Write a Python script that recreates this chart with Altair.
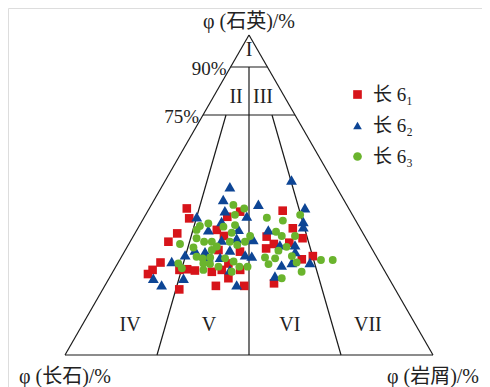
import altair as alt
import pandas as pd

# ---------------- data: (quartz Q, feldspar F, rock fragment R) in % ----------------
series_names = ["长 6₁", "长 6₂", "长 6₃"]
series_colors = ["#d7141a", "#0d4595", "#6ab42d"]
series_shapes = ["square", "triangle-up", "circle"]
series_sizes = [74, 118, 62]

q_red = [45.8, 45.1, 44.8, 42.7, 43.2, 39.6, 39.1, 38.0, 37.2, 37.0, 36.5, 35.4, 34.7, 35.1, 33.3, 32.8, 32.3,
         29.9, 30.9, 28.9, 28.6, 26.6, 26.6, 26.8, 26.4, 26.0, 26.6, 26.6, 24.0, 22.4, 20.5, 21.6, 21.6, 25.3]
f_red = [44.0, 18.3, 30.0, 44.9, 34.3, 18.3, 39.2, 50.5, 38.2, 26.7, 17.2, 54.2, 25.9, 21.5, 28.7, 41.9, 36.3,
         20.7, 17.2, 59.6, 41.3, 62.9, 55.6, 53.4, 51.5, 47.1, 44.1, 39.1, 43.6, 32.0, 58.7, 48.2, 40.5, 64.8]
r_red = [10.2, 36.6, 25.2, 12.4, 22.5, 42.1, 21.7, 11.5, 24.6, 36.3, 46.3, 10.4, 39.4, 43.4, 38.0, 25.3, 31.4,
         49.4, 51.9, 11.5, 30.1, 10.5, 17.8, 19.8, 22.1, 26.9, 29.3, 34.3, 32.4, 45.6, 20.8, 30.2, 37.9, 9.9]

q_blue = [54.7, 52.6, 48.6, 47.1, 46.0, 45.1, 43.2, 43.4, 41.7, 41.7, 40.1, 39.1, 39.3, 39.1, 35.9, 36.5, 36.1,
          34.4, 34.4, 32.8, 32.8, 32.3, 31.3, 32.3, 30.7, 30.5, 31.3, 30.9, 29.2, 28.1, 28.9, 28.9, 26.6, 24.0,
          24.0, 24.7, 21.9, 21.9]
f_blue = [11.1, 28.9, 32.7, 23.9, 11.8, 34.0, 42.6, 28.9, 36.6, 14.4, 15.2, 41.5, 33.2, 25.2, 39.5, 35.1, 30.8,
          24.4, 20.3, 48.3, 38.8, 21.3, 51.7, 45.8, 45.7, 42.6, 35.4, 33.8, 56.4, 27.1, 23.9, 19.0, 41.9, 64.0,
          55.8, 30.6, 62.8, 42.4]
r_blue = [34.2, 18.5, 18.7, 29.0, 42.2, 20.9, 14.2, 27.7, 21.7, 43.9, 44.7, 19.4, 27.5, 35.7, 24.6, 28.4, 33.1,
          41.2, 45.3, 18.9, 28.4, 46.4, 17.0, 21.9, 23.6, 26.9, 33.3, 35.3, 14.4, 44.8, 47.2, 52.1, 31.5, 12.0,
          20.2, 44.7, 15.3, 35.7]

q_green = [46.9, 45.8, 43.8, 42.9, 43.8, 41.1, 40.3, 39.1, 40.6, 40.1, 42.0, 38.2, 38.5, 37.2, 36.5, 37.2, 37.2,
           34.7, 35.4, 35.4, 35.4, 35.4, 33.6, 32.8, 32.6, 30.7, 30.2, 30.5, 30.2, 30.5, 30.2, 29.7, 29.7, 30.9,
           28.6, 27.1, 27.6, 29.2, 27.6, 28.4, 28.9, 27.6, 28.4, 26.6, 26.0, 24.0, 26.0, 33.9, 34.4, 28.6, 33.8]
f_green = [30.8, 28.4, 31.9, 23.7, 14.2, 40.5, 43.2, 44.7, 33.5, 36.9, 19.8, 35.6, 23.4, 22.5, 46.0, 31.1, 18.9,
           51.4, 44.5, 42.4, 37.5, 33.4, 48.3, 43.7, 25.7, 48.9, 47.5, 45.3, 41.4, 30.4, 27.8, 15.6, 12.4, 22.9,
           54.9, 54.7, 44.5, 39.6, 38.8, 30.5, 22.6, 36.6, 46.4, 49.1, 41.7, 29.1, 22.7, 41.8, 36.0, 48.1, 22.9]
r_green = [22.3, 25.8, 24.3, 33.4, 42.0, 18.4, 16.5, 16.2, 25.9, 23.0, 38.2, 26.2, 38.1, 40.3, 17.5, 31.7, 43.9,
           13.9, 20.1, 22.2, 27.1, 31.2, 18.1, 23.5, 41.7, 20.4, 22.3, 24.2, 28.4, 39.1, 42.0, 54.7, 57.9, 46.2,
           16.5, 18.2, 27.9, 31.2, 33.6, 41.1, 48.5, 35.8, 25.2, 24.3, 32.3, 46.9, 51.3, 24.3, 29.6, 23.3, 43.3]

# classification boundaries (start / end in Q, F, R %)
seg_q1 = [0, 0, 100, 90, 75, 90, 75, 75]
seg_f1 = [100, 0, 0, 10, 25, 5, 18.75, 6.25]
seg_r1 = [0, 100, 0, 0, 0, 5, 6.25, 18.75]
seg_q2 = [0, 100, 0, 90, 75, 0, 0, 0]
seg_f2 = [0, 0, 100, 0, 0, 50, 75, 25]
seg_r2 = [100, 0, 0, 10, 25, 50, 25, 75]

# field labels (Roman numerals) at ternary positions
zone_text = ["I", "II", "III", "IV", "V", "VI", "VII"]
zone_q = [95.3, 80.6, 80.6, 9.4, 9.4, 9.4, 9.4]
zone_f = [2.35, 13.2, 5.9, 77.6, 56.2, 34.2, 13.0]
zone_r = [2.35, 6.2, 13.5, 13.0, 34.4, 56.4, 77.6]

pct_text = ["90%", "75%"]
pct_q = [90, 75]
pct_f = [10, 25]
pct_r = [0, 0]

vert_text = ["φ (石英)/%", "φ (长石)/%", "φ (岩屑)/%"]
vert_q = [100, 0, 0]
vert_f = [0, 100, 0]
vert_r = [0, 0, 100]


def tern(q, f, r):
    s = q + f + r
    return 100.0 * (r + q / 2.0) / s, 100.0 * q / s


def series_df(name, qs, fs, rs):
    out = []
    for q, f, r in zip(qs, fs, rs):
        x, y = tern(q, f, r)
        out.append({"series": name, "x": x, "y": y})
    return pd.DataFrame(out)


seg_rows = []
for a in zip(seg_q1, seg_f1, seg_r1, seg_q2, seg_f2, seg_r2):
    x1, y1 = tern(*a[:3])
    x2, y2 = tern(*a[3:])
    seg_rows.append({"x": x1, "y": y1, "x2": x2, "y2": y2})
segs = pd.DataFrame(seg_rows)


def label_df(texts, qs, fs, rs):
    out = []
    for t, q, f, r in zip(texts, qs, fs, rs):
        x, y = tern(q, f, r)
        out.append({"t": t, "x": x, "y": y})
    return pd.DataFrame(out)


zones = label_df(zone_text, zone_q, zone_f, zone_r)
pcts = label_df(pct_text, pct_q, pct_f, pct_r)
verts = label_df(vert_text, vert_q, vert_f, vert_r)

FONT = "Liberation Serif, Noto Sans CJK SC"
xs = alt.Scale(domain=[-15.489, 113.315], nice=False, zero=False)
ys = alt.Scale(domain=[-10, 108.4375], nice=False, zero=False)
X = alt.X("x:Q", scale=xs, axis=None)
Y = alt.Y("y:Q", scale=ys, axis=None)

frame = alt.Chart(segs).mark_rule(color="#1a1a1a", strokeWidth=1.2).encode(
    x=X, y=Y, x2="x2:Q", y2="y2:Q")

legend = alt.Legend(title=None, orient="none", legendX=340, legendY=77,
                    labelFont=FONT, labelFontSize=19, labelColor="#222", symbolSize=75,
                    rowPadding=11, labelOffset=6, symbolStrokeWidth=0)
color_enc = alt.Color("series:N", scale=alt.Scale(domain=series_names, range=series_colors), legend=legend)
shape_enc = alt.Shape("series:N", scale=alt.Scale(domain=series_names, range=series_shapes), legend=legend)

point_layers = []
for name, qs, fs, rs, sz in zip(series_names, [q_red, q_blue, q_green], [f_red, f_blue, f_green],
                                [r_red, r_blue, r_green], series_sizes):
    point_layers.append(
        alt.Chart(series_df(name, qs, fs, rs)).mark_point(filled=True, opacity=1, strokeWidth=0, size=sz)
        .encode(x=X, y=Y, color=color_enc, shape=shape_enc)
    )

zone_lbl = alt.Chart(zones).mark_text(font="Liberation Serif", fontSize=20, color="#222",
                                      baseline="middle").encode(x=X, y=Y, text="t:N")
pct_lbl = alt.Chart(pcts).mark_text(font=FONT, fontSize=19, color="#222", align="right",
                                    baseline="middle", dx=-4, dy=2).encode(x=X, y=Y, text="t:N")
top_lbl = alt.Chart(verts.iloc[[0]]).mark_text(font=FONT, fontSize=20, color="#222",
                                               baseline="middle", dy=-13).encode(x=X, y=Y, text="t:N")
bot_lbl = alt.Chart(verts.iloc[[1, 2]]).mark_text(font=FONT, fontSize=20, color="#222",
                                                  baseline="middle", dy=22).encode(x=X, y=Y, text="t:N")

chart = alt.layer(frame, *point_layers, zone_lbl, pct_lbl, top_lbl, bot_lbl).properties(
    width=474, height=379, autosize=alt.AutoSizeParams(type="none"), padding=0
).configure_view(stroke=None).configure(background="white")

chart.save("out.html", embed_options={"renderer": "svg", "actions": False})
